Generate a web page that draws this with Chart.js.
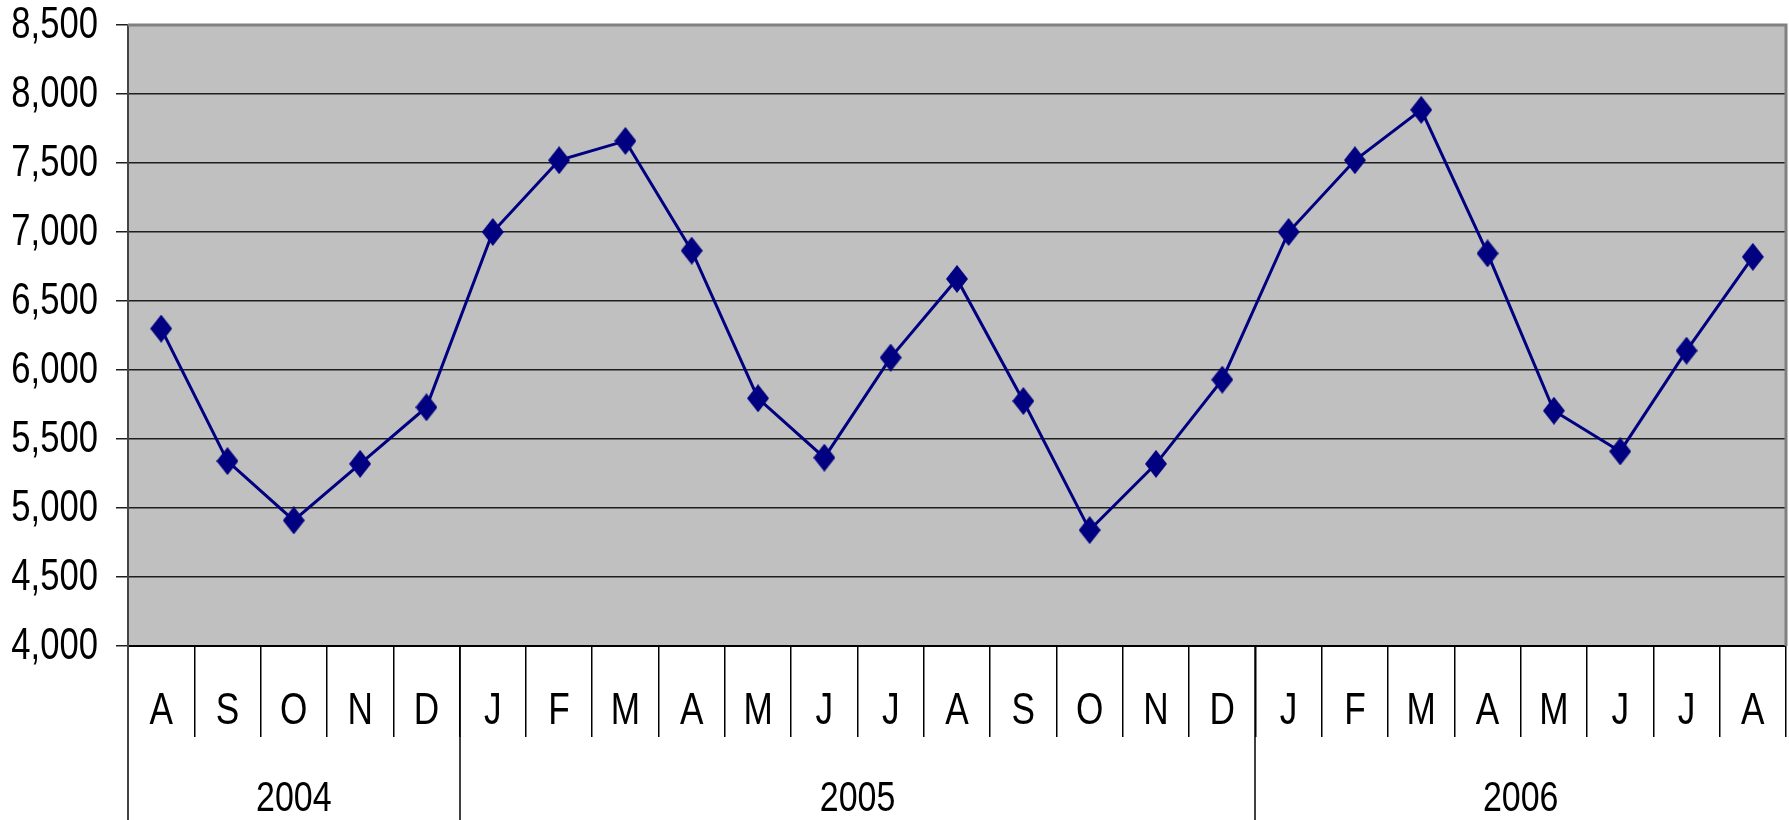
<!DOCTYPE html>
<html>
<head>
<meta charset="utf-8">
<script src="https://cdn.jsdelivr.net/npm/chart.js@4/dist/chart.umd.min.js"></script>
<style>
html,body{margin:0;padding:0;background:#fff;}
#c{display:block;}
</style>
</head>
<body>
<canvas id="c" width="1789" height="820"></canvas>
<script>
const months = ['A','S','O','N','D','J','F','M','A','M','J','J','A','S','O','N','D','J','F','M','A','M','J','J','A'];
const values = [6300,5340,4910,5320,5730,7000,7520,7660,6865,5795,5365,6090,6660,5775,4840,5320,5930,7000,7520,7885,6845,5705,5410,6140,6820];
const yearLabels = ['2004','2005','2006'];
const yearCounts = [5,12,8];
const yTickMin = 4000, yTickMax = 8500, yTickStep = 500;

const FONT = '"Liberation Sans Narrow","Arial Narrow","Liberation Sans",Arial,sans-serif';

// narrow text: Arial-like glyphs compressed horizontally (Arial Narrow look)
function narrowText(ctx, text, x, y, ratio) {
  const w = ctx.measureText(text).width;
  ctx.fillText(text, x, y, w * ratio);
}

// diamond marker
const mk = document.createElement('canvas');
mk.width = 22; mk.height = 28;
(function(){
  const g = mk.getContext('2d');
  g.fillStyle = '#000080';
  g.beginPath();
  g.moveTo(11,0); g.lineTo(22,14); g.lineTo(11,28); g.lineTo(0,14); g.closePath();
  g.fill();
})();

const framePlugin = {
  id: 'frame',
  beforeDraw(chart) {
    const {ctx, chartArea: a} = chart;
    ctx.save();
    ctx.fillStyle = '#C0C0C0';
    ctx.fillRect(a.left, a.top, a.right - a.left, a.bottom - a.top);
    ctx.restore();
  },
  afterDraw(chart) {
    const {ctx, chartArea: a} = chart;
    const xs = chart.scales.x, ys = chart.scales.y;
    ctx.save();
    // top and right plot border
    ctx.strokeStyle = '#808080';
    ctx.lineWidth = 3;
    ctx.beginPath();
    ctx.moveTo(a.left, a.top);
    ctx.lineTo(a.right, a.top);
    ctx.lineTo(a.right, a.bottom);
    ctx.stroke();

    ctx.fillStyle = '#000';
    // y tick labels
    ctx.font = '45px ' + FONT;
    ctx.textAlign = 'right';
    ctx.textBaseline = 'middle';
    ys.ticks.forEach(t => {
      narrowText(ctx, t.label, 98, ys.getPixelForValue(t.value) + 1, 0.77);
    });

    // month labels
    ctx.font = '44px ' + FONT;
    ctx.textAlign = 'center';
    ctx.textBaseline = 'alphabetic';
    xs.ticks.forEach((t, i) => {
      narrowText(ctx, String(months[i]), xs.getPixelForValue(i), 724, 0.8);
    });

    // year group separators and labels
    const w = xs.getPixelForValue(1) - xs.getPixelForValue(0);
    let start = 0;
    ctx.font = '43px ' + FONT;
    for (let i = 0; i < yearLabels.length; i++) {
      const first = start, last = start + yearCounts[i] - 1;
      const xl = Math.round(xs.getPixelForValue(first) - w / 2);
      ctx.strokeStyle = i === 0 ? '#444' : '#000';
      ctx.lineWidth = i === 0 ? 2 : 1.5;
      ctx.beginPath();
      ctx.moveTo(xl, a.bottom);
      ctx.lineTo(xl, 820);
      ctx.stroke();
      const cx = (xs.getPixelForValue(first) + xs.getPixelForValue(last)) / 2;
      narrowText(ctx, yearLabels[i], cx, 811, 0.79);
      start += yearCounts[i];
    }
    ctx.restore();
  }
};

new Chart(document.getElementById('c'), {
  type: 'line',
  data: {
    labels: months,
    datasets: [{
      data: values,
      borderColor: '#000080',
      borderWidth: 3,
      tension: 0,
      pointStyle: mk,
      pointRadius: 12,
      pointBackgroundColor: '#000080',
      pointBorderColor: '#000080',
      clip: false
    }]
  },
  options: {
    responsive: false,
    animation: false,
    devicePixelRatio: 1,
    layout: { autoPadding: false, padding: { top: 25, right: 3, left: 0, bottom: 0 } },
    plugins: { legend: { display: false }, tooltip: { enabled: false } },
    scales: {
      x: {
        type: 'category',
        offset: true,
        afterFit(s) { s.height = 174; s.paddingLeft = 0; s.paddingRight = 0; },
        grid: {
          offset: true,
          drawOnChartArea: false,
          drawTicks: true,
          tickLength: 91,
          color: '#000',
          lineWidth: 1.5
        },
        border: { display: true, color: '#000', width: 2 },
        ticks: { display: false, autoSkip: false, maxRotation: 0 }
      },
      y: {
        min: yTickMin,
        max: yTickMax,
        afterFit(s) { s.width = 128; s.paddingTop = 0; s.paddingBottom = 0; },
        grid: {
          color: '#1e1e1e',
          lineWidth: 1.5,
          drawTicks: true,
          tickLength: 12,
          tickColor: '#1e1e1e'
        },
        border: { display: true, color: '#444', width: 2 },
        ticks: { display: false, stepSize: yTickStep }
      }
    }
  },
  plugins: [framePlugin]
});
</script>
</body>
</html>
